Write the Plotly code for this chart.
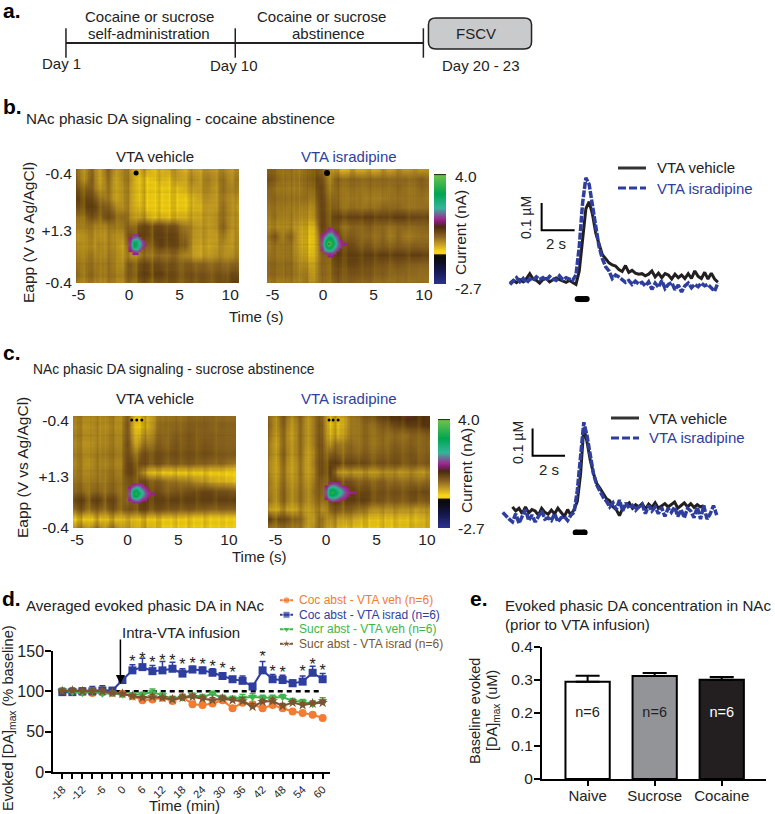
import numpy as np
import plotly.graph_objects as go

W, H = 775, 814
FONT = "Liberation Sans"
BLUE = "#2e3e9e"
BLACK = "#231f20"
ORANGE = "#f47c32"
GREEN = "#3db54a"
BROWN = "#7a5530"

# FSCV colour map (position along the bar, colour)
fscv_colors = [
    [0.0, "#2b3190"], [0.127, "#15174a"], [0.24, "#0a0a0a"], [0.265, "#111008"],
    [0.275, "#f7d417"], [0.30, "#f7d417"], [0.355, "#c9a227"], [0.43, "#8a6422"], [0.52, "#4b2a10"],
    [0.56, "#7a1f6a"], [0.59, "#a0268f"], [0.69, "#35b59b"], [0.82, "#00a651"],
    [0.985, "#6cc04a"], [1.0, "#000000"],
]
# scan-to-scan texture drawn over the colour plots
texture_colors = [[0, "rgba(70,35,0,0.42)"], [0.5, "rgba(120,90,0,0)"], [1, "rgba(250,215,0,0.38)"]]

# panel a
timeline_days = [1, 10, 20]

# colour plots, tenths of nA, top row first
heat_b_veh = [
    [1,-2,0,-3,1,-2,-1,-3,-5,-4,-6,-5,-4,-3,-5,-3,-4,-2,-3,-1,-3,-2],
    [2,-1,1,-3,0,-3,-1,-2,-6,-7,-6,-5,-6,-3,-4,-1,-3,0,-2,1,-2,0],
    [4,3,1,-2,-1,-3,-2,-3,-6,-7,-8,-7,-7,-6,-5,-3,-3,-1,-3,1,-1,-1],
    [6,6,4,2,-1,-3,-2,-3,-6,-7,-8,-8,-8,-7,-7,-5,-4,-2,-3,0,-2,-3],
    [4,6,6,5,2,0,-2,-3,-5,-7,-7,-8,-8,-7,-7,-5,-5,-3,-3,1,-2,-4],
    [0,2,3,3,4,3,1,-2,-3,-4,-6,-5,-6,-5,-5,-4,-4,-3,-2,1,-2,-3],
    [-1,1,-2,0,-2,1,0,1,4,5,5,5,4,3,0,-2,-3,-3,-2,2,-2,-3],
    [-3,-1,-3,-1,-3,-1,-2,4,6,5,6,6,6,5,2,-2,-3,-3,-3,0,-3,-2],
    [-2,-1,-4,0,-3,-1,-4,1,2,2,4,6,5,5,3,-3,-4,-4,-3,-2,-3,-2],
    [-1,0,-2,0,-2,0,-3,-2,-1,0,1,1,1,1,-1,-3,-4,-3,-2,-2,-2,-1],
    [0,1,-1,1,-1,0,-2,3,4,5,5,4,4,3,3,2,2,1,2,1,2,1],
    [1,1,0,1,-1,1,-1,3,5,6,6,6,5,4,4,4,4,3,4,3,5,4],
    [-1,0,-2,0,-2,0,-2,1,3,3,3,3,4,3,3,3,4,3,4,4,6,6],
]
heat_b_isr = [
    [3,0,2,-1,1,-1,5,1,-1,-5,-6,-4,-5,-4,-5,-3,-4,-2,-3,-2,-3,-2],
    [5,1,3,-1,2,0,6,4,0,1,2,1,2,1,2,1,2,1,2,1,3,1],
    [3,-1,2,-2,1,-1,4,5,1,0,1,0,1,0,1,0,1,1,1,0,2,1],
    [2,0,3,-1,2,-1,2,5,3,0,1,-1,1,-1,0,-1,1,0,1,0,1,0],
    [1,-1,2,-2,1,-3,0,5,4,1,1,0,1,0,1,1,2,1,1,0,1,1],
    [0,-1,1,-2,0,-4,-1,5,5,5,6,5,6,6,6,5,6,6,6,5,5,5],
    [-1,-3,0,-3,-2,-6,-5,5,5,2,1,1,2,2,2,1,1,1,2,1,2,2],
    [1,2,1,1,-2,-7,-6,3,6,5,3,2,2,1,1,1,0,1,0,0,1,1],
    [0,-1,2,-1,-2,-7,-6,2,6,6,5,4,3,3,2,2,2,2,2,2,2,2],
    [1,-1,2,-1,-1,-6,-5,1,4,6,6,6,6,6,6,6,6,6,6,6,6,5],
    [2,0,3,0,0,-4,-3,1,3,4,5,5,5,4,4,3,3,3,3,2,2,2],
    [2,0,3,0,1,-2,-2,1,3,3,4,3,4,3,3,2,2,1,2,1,1,1],
    [0,-2,1,-2,0,-2,-1,0,2,1,3,1,2,1,1,0,1,0,1,0,1,0],
]
heat_c_veh = [
    [0,-2,0,-3,0,-2,-1,2,-6,-6,-3,-1,1,0,1,1,2,1,2,1,1,1],
    [-1,-3,-1,-3,-1,-3,-1,3,-7,-7,-3,0,2,1,2,2,3,2,2,2,2,2],
    [0,-2,0,-3,0,-2,0,3,-5,-4,-1,1,2,2,3,3,3,2,3,2,2,2],
    [-1,-3,-1,-3,0,-2,0,4,-3,-1,1,2,2,3,3,3,3,3,3,2,2,2],
    [0,-2,0,-2,1,-1,1,4,1,3,4,4,4,4,4,4,4,4,4,3,3,3],
    [-1,-2,-1,-2,0,-2,0,5,5,4,4,4,3,3,3,3,3,2,2,2,1,0],
    [0,-2,0,-2,1,-1,1,5,6,-4,-6,-7,-7,-7,-7,-7,-7,-7,-7,-7,-8,-8],
    [1,-1,1,-1,1,0,2,3,5,4,3,2,1,0,0,-1,-2,-3,-4,-5,-5,-6],
    [2,1,2,1,2,1,2,2,5,6,5,4,3,3,4,4,5,5,5,4,4,3],
    [5,6,5,6,5,5,4,1,5,6,6,6,6,6,6,6,6,6,6,6,6,6],
    [1,3,2,2,2,3,3,3,5,5,4,4,4,3,3,3,3,2,2,2,2,2],
    [-7,-7,-7,-6,-6,-6,-6,-5,-6,-7,-7,-7,-7,-7,-7,-8,-8,-8,-8,-8,-8,-8],
    [-2,-1,-2,0,-2,0,-2,-3,-4,-5,-5,-6,-7,-7,-8,-7,-8,-7,-8,-8,-8,-8],
]
heat_c_isr = [
    [1,-1,2,-1,1,-2,0,2,-6,-5,-3,0,2,3,5,6,8,8,9,8,8,7],
    [2,-1,1,-2,0,-2,0,3,-6,-6,-3,0,1,1,2,3,4,5,6,6,7,7],
    [1,-2,0,-3,0,-2,0,3,-5,-5,-2,0,1,1,1,1,1,1,1,2,2,2],
    [0,-3,0,-2,0,-2,0,4,-2,0,1,1,1,1,1,1,2,2,2,2,2,1],
    [0,-2,1,-2,0,-3,-1,4,2,2,2,2,2,2,2,2,3,3,3,3,2,2],
    [-1,-3,0,-3,-1,-3,0,5,6,6,5,5,5,4,4,4,4,4,3,4,3,3],
    [-1,-3,-1,-3,-1,-3,-1,5,6,-2,-3,-3,-3,-3,-3,-2,-2,-3,-2,-2,-3,-2],
    [0,-2,0,-2,-1,-2,0,3,5,5,4,3,2,2,2,2,1,1,1,1,1,1],
    [0,-1,1,-1,0,-1,1,2,5,6,6,6,5,5,4,4,4,4,4,5,5,4],
    [1,-1,1,-1,0,-1,0,1,5,6,6,6,6,5,4,3,3,3,3,4,3,3],
    [-3,-4,-3,-4,-3,-3,-2,-2,2,3,3,2,1,-1,-2,-2,-2,-2,-2,-3,-2,-3],
    [6,5,4,4,1,-2,-3,1,-2,-3,-3,-4,-5,-6,-6,-6,-6,-6,-6,-6,-5,-5],
    [0,1,0,1,-1,-3,-2,0,-4,-5,-6,-6,-7,-7,-7,-6,-7,-6,-6,-5,-5,-5],
]

# vertical stripes (left to right) and horizontal bands (top to bottom) of the plots
stripes_b = [-2,2,3,-2,-3,1,3,0,-3,-1,3,2,-2,-3,2,3,-1,-3,1,3,-1,-2,1,2,-2,-2,2,2,-1,-2,2,1,-2,-1,2,1,-2,-1,2,1,-2,-1]
stripes_c = [2,-2,-3,2,3,-1,-3,1,3,-2,-3,2,3,-1,-2,2,3,-2,-3,2,2,-2,-2,1,2,-1,-2,2,1,-2,-1,2,1,-2,-1,1,2,-1,-1,1,1,-1]
bands_b = [-2,1,2,-1,0,2,-1,-2,1,1,-1,0,2,-1,-2,1,2,0,-2,1,0,2,-1,-2,1,2,-1,0,1,-2,1,2,-1,-2,1,-2]
bands_c = [-2,2,1,-1,1,-2,1,2,-1,0,1,-1,2,0,-1,1,1,-2,1,0,2,-1,1,-2,1,1,-1,2,0,-2,1,2,-1,1,0,-3]

# dopamine oxidation spots, same units, None = nothing above background
n = None
spot_b_veh = [
    [n,13,13,n,n,n],
    [12,16,18,14,n,n],
    [13,25,25,18,13,n],
    [14,29,26,20,14,12],
    [13,26,24,17,13,n],
    [12,15,17,14,n,n],
    [n,12,12,n,n,n],
]
spot_b_isr = [
    [n,n,12,13,n,n,n,n,n],
    [n,12,14,15,12,n,n,n,n],
    [12,14,20,20,14,12,n,n,n],
    [13,20,27,26,18,14,n,n,n],
    [14,26,32,30,22,15,12,n,n],
    [15,28,40,32,24,16,13,12,12],
    [14,26,32,28,20,15,13,n,n],
    [13,20,24,22,16,13,n,n,n],
    [n,13,14,14,13,n,n,n,n],
    [n,n,12,12,n,n,n,n,n],
]
spot_c_veh = [
    [n,12,13,13,12,n,n,n,n],
    [12,16,20,18,14,12,n,n,n],
    [14,26,28,22,18,14,12,n,n],
    [15,30,32,26,20,15,13,12,12],
    [14,27,28,22,17,14,12,n,n],
    [12,15,18,16,13,12,n,n,n],
    [n,12,12,12,n,n,n,n,n],
]
spot_c_isr = [
    [n,12,13,13,12,n,n,n,n,n,n],
    [12,17,20,18,15,13,12,n,n,n,n],
    [14,26,28,24,20,17,14,12,n,n,n],
    [15,30,32,28,23,19,15,13,12,12,12],
    [14,27,28,25,20,16,14,12,n,n,n],
    [12,16,18,17,14,13,12,n,n,n,n],
    [n,12,13,12,12,n,n,n,n,n,n],
]

# DA traces in nM, one sample every 0.2 s
trace_b_veh = [-5,5,-3,8,0,12,30,10,5,-5,8,12,0,6,14,8,3,-2,5,-3,
    -10,40,160,270,296,250,180,140,100,85,70,62,58,45,38,60,35,42,32,28,30,22,28,40,
    18,32,15,30,25,10,28,15,25,12,30,12,40,20,12,35,10,32,10,-2]
trace_b_isr = [-10,5,15,0,12,-5,10,5,18,8,15,5,20,10,5,22,8,15,10,5,
    25,130,290,385,360,290,205,130,85,55,40,12,25,18,8,-2,5,-10,2,-8,-2,-15,0,-28,
    -5,-20,5,-25,-10,-3,-30,-12,-38,-15,-5,-22,-10,-18,-5,-15,-10,-25,-35,-5]
trace_c_veh = [30,15,25,5,30,8,20,15,0,25,10,3,18,5,25,8,-5,20,0,
    20,50,150,320,268,200,152,115,98,78,60,52,30,20,-2,25,35,45,25,38,30,42,22,40,28,
    45,25,35,42,30,38,48,25,35,45,30,42,28,38,30,35]
trace_c_isr = [10,-5,-15,-25,5,-30,-5,20,-20,0,-25,-5,15,-15,-10,-20,5,-25,-10,-5,-20,0,
    10,90,210,340,290,215,150,110,85,65,50,30,45,20,55,15,45,25,35,18,30,40,5,35,
    15,30,5,28,-5,25,10,30,-5,20,-10,25,15,-10,30,-15,35,-15,5,35,0]

# panel d
minutes = list(range(-18, 61, 3))
minute_labels = [str(m) if m % 6 == 0 else "" for m in minutes]
coc_veh = [100,100,99,98,99,98,97,94,89,90,92,88,93,84,83,85,89,79,86,84,79,83,79,75,73,71,67]
coc_isr = [99,99,100,100,101,101,114,126,130,125,126,128,122,127,126,123,119,115,113,106,126,115,114,110,112,123,115]
suc_veh = [101,99,98,100,97,98,96,96,96,99,95,91,92,95,93,97,92,91,92,93,92,92,93,88,87,84,88]
suc_isr = [100,101,100,100,100,98,97,94,92,93,92,90,92,93,91,89,91,89,88,81,87,88,82,86,83,85,86]
coc_veh_err = [2,2,2,2,2,2,2,3,3,3,2,3,3,3,2,3,3,3,3,3,2,3,2,2,2,2,2]
coc_isr_err = [4,3,4,6,6,3,4,7,11,7,11,8,6,4,4,5,4,3,6,3,11,6,6,4,7,8,7]
suc_veh_err = [3,3,3,3,3,2,2,2,3,4,3,3,3,3,3,3,3,3,4,4,3,3,3,3,3,3,4]
suc_isr_err = [3,3,3,3,3,2,2,2,2,3,2,3,3,3,3,3,3,3,4,4,3,3,3,3,3,3,3]
star_minutes = [3,6,9,12,15,18,21,24,27,30,33,42,45,48,54,57,60]
star_heights = [135,139,134,137,136,131,133,131,129,127,121,141,123,121,123,131,124]
d_legend = [
    ("Coc abst - VTA veh (n=6)", ORANGE, "circle"),
    ("Coc abst - VTA israd (n=6)", BLUE, "square"),
    ("Sucr abst - VTA veh (n=6)", GREEN, "triangle-down"),
    ("Sucr abst - VTA israd (n=6)", BROWN, "star"),
]

# panel e
groups = ["Naive", "Sucrose", "Cocaine"]
baseline_da = [0.295, 0.312, 0.301]
baseline_err = [0.018, 0.009, 0.008]
group_fill = ["#ffffff", "#929497", "#231f20"]
group_text = ["#222222", "#222222", "#ffffff"]


def xdom(a, b):
    return [a / W, b / W]


def ydom(top, bottom):
    return [1 - bottom / H, 1 - top / H]


fig = go.Figure()
notes = []


def note(text, px, py, size=14, color="#222222", anchor="center", angle=0, bold=False):
    notes.append(dict(
        text=f"<b>{text}</b>" if bold else text,
        x=px / W, y=1 - py / H, xref="paper", yref="paper",
        xanchor=anchor, yanchor="middle", showarrow=False, textangle=angle,
        font=dict(family=FONT, size=size, color=color),
    ))


def hidden(anchor, **kw):
    return dict(visible=False, fixedrange=True, anchor=anchor, **kw)


# panel a: timeline
fig.add_trace(go.Scatter(
    x=timeline_days, y=[0, 0, 0], xaxis="x", yaxis="y", mode="lines+markers",
    line=dict(color=BLACK, width=2), showlegend=False,
    marker=dict(symbol="line-ns", size=21, line=dict(color=BLACK, width=1.5)),
))

# colour plots
def add_heat(rows, spot, ax, color_axis, t_left, t_right, t_spot, row_spot, stripes, bands):
    xa, ya = ("x" + ax, "y" + ax)
    fig.add_trace(go.Heatmap(
        z=np.array(rows[::-1]) / 10, x=np.linspace(t_left, t_right, len(rows[0])),
        y=np.linspace(0, 1, len(rows)), xaxis=xa, yaxis=ya, zsmooth="best",
        coloraxis=color_axis, hoverinfo="skip",
    ))
    fig.add_trace(go.Heatmap(
        z=[stripes, stripes], x=np.linspace(t_left, t_right, len(stripes)), y=[0, 1],
        xaxis=xa, yaxis=ya, zsmooth="best", zmin=-4, zmax=4, colorscale=texture_colors,
        showscale=False, hoverinfo="skip",
    ))
    fig.add_trace(go.Heatmap(
        z=[[b, b] for b in bands[::-1]], x=[t_left, t_right], y=np.linspace(0, 1, len(bands)),
        xaxis=xa, yaxis=ya, zsmooth="best", zmin=-8, zmax=8, colorscale=texture_colors,
        showscale=False, hoverinfo="skip",
    ))
    z = np.array(spot[::-1], dtype=float) / 10
    fig.add_trace(go.Heatmap(
        z=z, x=t_spot + 0.3 * np.arange(z.shape[1]),
        y=row_spot + 0.026 * np.arange(z.shape[0]), xaxis=xa, yaxis=ya,
        zsmooth="best", coloraxis=color_axis, hoverinfo="skip",
    ))


add_heat(heat_b_veh, spot_b_veh, "2", "coloraxis", -5.24, 10.87, 0.1, 0.26, stripes_b, bands_b)
add_heat(heat_b_isr, spot_b_isr, "3", "coloraxis", -5.55, 10.5, -0.1, 0.24, stripes_c, bands_c)
add_heat(heat_c_veh, spot_c_veh, "5", "coloraxis2", -5.4, 10.7, 0.2, 0.23, stripes_c, bands_b[::-1])
add_heat(heat_c_isr, spot_c_isr, "6", "coloraxis2", -5.75, 10.3, 0.0, 0.24, stripes_b, bands_c[::-1])

# black artefact at the top of each colour plot
artefacts = [("2", [0.7], 5), ("3", [0.4], 6), ("5", [0.4, 0.9, 1.4], 3), ("6", [0.3, 0.7, 1.2], 3)]
for ax, ts, size in artefacts:
    fig.add_trace(go.Scatter(
        x=ts, y=[0.965] * len(ts), xaxis="x" + ax, yaxis="y" + ax, mode="markers",
        marker=dict(color="#000000", size=size), showlegend=False, hoverinfo="skip",
    ))


# DA traces with scale bars
def add_traces(black, blue, t_black, t_blue, ax, bar_t, bar_y):
    xa, ya = ("x" + ax, "y" + ax)
    fig.add_trace(go.Scatter(
        x=t_black + 0.2 * np.arange(len(black)), y=black, xaxis=xa, yaxis=ya,
        mode="lines", line=dict(color=BLACK, width=3), showlegend=False,
    ))
    fig.add_trace(go.Scatter(
        x=t_blue + 0.2 * np.arange(len(blue)), y=blue, xaxis=xa, yaxis=ya,
        mode="lines", line=dict(color=BLUE, width=3.5, dash="7px,1.5px"), showlegend=False,
    ))
    # L-shaped scale: 100 nM and 2 s
    fig.add_trace(go.Scatter(
        x=[bar_t, bar_t, bar_t + 2], y=[bar_y + 100, bar_y, bar_y], xaxis=xa, yaxis=ya,
        mode="lines", line=dict(color="#000000", width=2), showlegend=False,
    ))
    # stimulation bar
    fig.add_trace(go.Scatter(
        x=[0.1, 0.65], y=[-64, -64], xaxis=xa, yaxis=ya, mode="lines+markers",
        line=dict(color="#000000", width=6), marker=dict(color="#000000", size=6),
        showlegend=False,
    ))


add_traces(trace_b_veh, trace_b_isr, -4.0, -4.0, "4", -2.08, 191)
add_traces(trace_c_veh, trace_c_isr, -3.8, -4.4, "7", -2.56, 217)

# keys of the trace panels
for ax in ["11", "12"]:
    fig.add_trace(go.Scatter(
        x=[0, 1], y=[0, 0], xaxis="x" + ax, yaxis="y" + ax, mode="lines",
        line=dict(color="#333333", width=3), showlegend=False,
    ))
    fig.add_trace(go.Scatter(
        x=[0, 1], y=[1, 1], xaxis="x" + ax, yaxis="y" + ax, mode="lines",
        line=dict(color=BLUE, width=3, dash="8px,3px"), showlegend=False,
    ))
note("VTA vehicle", 655, 168, size=15, anchor="left")
note("VTA isradipine", 655, 188, size=15, color=BLUE, anchor="left")
note("VTA vehicle", 647, 418, size=15, anchor="left")
note("VTA isradipine", 647, 438, size=15, color=BLUE, anchor="left")

# panel d
series_d = [
    (coc_veh, coc_veh_err, d_legend[0]),
    (coc_isr, coc_isr_err, d_legend[1]),
    (suc_veh, suc_veh_err, d_legend[2]),
    (suc_isr, suc_isr_err, d_legend[3]),
]
fig.add_trace(go.Scatter(
    x=[-2, 60], y=[100, 100], xaxis="x8", yaxis="y8", mode="lines",
    line=dict(color="#000000", width=2.5, dash="5px,4px"), showlegend=False,
))
for vals, errs, (label, color, symbol) in series_d:
    fig.add_trace(go.Scatter(
        x=minutes, y=vals, xaxis="x8", yaxis="y8", mode="lines+markers",
        line=dict(color=color, width=2), name=label, showlegend=False,
        marker=dict(color=color, symbol=symbol, size=8),
        error_y=dict(type="data", array=errs, symmetric=False, arrayminus=[0] * len(errs),
                     color=color, thickness=1.5, width=3),
    ))
fig.add_trace(go.Scatter(
    x=star_minutes, y=star_heights, xaxis="x8", yaxis="y8", mode="text",
    text=["*"] * len(star_minutes), showlegend=False,
    textfont=dict(family=FONT, size=16, color="#222222"),
))
# legend keys of panel d
for row, (label, color, symbol) in enumerate(d_legend):
    fig.add_trace(go.Scatter(
        x=[0, 0.5, 1], y=[row] * 3, xaxis="x9", yaxis="y9", mode="lines+markers",
        line=dict(color=color, width=2), showlegend=False,
        marker=dict(color=color, symbol=symbol, size=[0, 7, 0]),
    ))
    note(label, 297, 600 + row * 14.6, size=12, color=color, anchor="left")

# panel e
fig.add_trace(go.Bar(
    x=groups, y=baseline_da, xaxis="x10", yaxis="y10", width=0.66, showlegend=False,
    marker=dict(color=group_fill, line=dict(color="#000000", width=2)),
    error_y=dict(type="data", array=baseline_err, symmetric=False,
                 arrayminus=[0] * 3, color="#000000", thickness=2, width=12),
))
fig.add_trace(go.Scatter(
    x=groups, y=[0.2] * 3, xaxis="x10", yaxis="y10", mode="text", text=["n=6"] * 3,
    textfont=dict(family=FONT, size=14.5, color=group_text), showlegend=False,
))

# text
for label, px, py in [("a.", 1, 10), ("b.", 1, 107), ("c.", 1, 352), ("d.", 0, 598), ("e.", 468, 598)]:
    note(label, px, py, size=21, color="#000000", anchor="left", bold=True)

note("Cocaine or sucrose", 149, 16, size=15)
note("self-administration", 149, 33, size=15)
note("Cocaine or sucrose", 321, 17, size=15)
note("abstinence", 328, 33, size=15)
note("Day 1", 61, 64, size=15)
note("Day 10", 234, 65, size=15)
note("Day 20 - 23", 481, 65, size=15)
note("FSCV", 476, 33, size=15)

note("NAc phasic DA signaling - cocaine abstinence", 24, 118, size=15.2, anchor="left")
note("NAc phasic DA signaling - sucrose abstinence", 31, 369, size=13.8, anchor="left")
note("Averaged evoked phasic DA in NAc", 24, 605, size=15.1, anchor="left")
note("Evoked phasic DA concentration in NAc", 503, 605, size=15.1, anchor="left")
note("(prior to VTA infusion)", 503, 624, size=15.1, anchor="left")

for title_y, ylab_x, ylab_y, time_x, time_y, bar_lab_x, bar_mid_y, bar_top, bar_bot, x_lab in [
    (156, 28, 233, 256, 317, 460, 232, 176, 288, 453),
    (398, 22, 468, 259, 556, 467, 470, 419, 528, 456),
]:
    note("VTA vehicle", 155, title_y, size=15)
    note("VTA isradipine", 349, title_y, size=15, color=BLUE)
    note("Eapp (V vs Ag/AgCl)", ylab_x, ylab_y, size=15.5, angle=-90)
    note("Time (s)", time_x, time_y, size=15)
    note("Current (nA)", bar_lab_x, bar_mid_y, size=15.5, angle=-90)
    note("4.0", x_lab, bar_top, size=15.5, anchor="left")
    note("-2.7", x_lab, bar_bot, size=15.5, anchor="left")

note("0.1 µM", 526, 218, size=14, angle=-90)
note("2 s", 556, 244, size=15)
note("0.1 µM", 518, 443, size=14, angle=-90)
note("2 s", 549, 469, size=15)

note("Evoked [DA]<sub>max</sub> (% baseline)", 9, 718, size=14.6, angle=-90)
note("Time (min)", 184, 805, size=15)
note("Intra-VTA infusion", 120, 632, size=15, anchor="left")
note("Baseline evoked", 475, 711, size=14.5, angle=-90)
note("[DA]<sub>max</sub> (uM)", 493, 711, size=14.5, angle=-90)

notes.append(dict(
    x=-0.6, y=109, xref="x8", yref="y8", ax=0, ay=-46, axref="pixel", ayref="pixel",
    text="", showarrow=True, arrowhead=2, arrowsize=1.2, arrowwidth=1.5, arrowcolor="#000000",
))

# rounded FSCV box in day units
bx0, bx1, by0, by1, rx, ry = 20.27, 25.75, -0.18, 0.76, 0.4, 0.2
box_path = (f"M {bx0+rx} {by0} L {bx1-rx} {by0} Q {bx1} {by0} {bx1} {by0+ry} "
            f"L {bx1} {by1-ry} Q {bx1} {by1} {bx1-rx} {by1} L {bx0+rx} {by1} "
            f"Q {bx0} {by1} {bx0} {by1-ry} L {bx0} {by0+ry} Q {bx0} {by0} {bx0+rx} {by0} Z")

tick_font = dict(family=FONT, size=15.5, color="#222222")


def heat_xaxis(a, b, t_left, t_right, anchor):
    return dict(domain=xdom(a, b), range=[t_left, t_right], tickvals=[-5, 0, 5, 10], anchor=anchor,
                ticktext=["-5", "0", "5", "10"], ticks="", showgrid=False, zeroline=False,
                showline=False, tickfont=tick_font, ticklen=0, fixedrange=True)


def heat_yaxis(top, bottom, anchor, labels=True):
    return dict(domain=ydom(top, bottom), range=[0, 1], tickvals=[0, 0.46, 0.96] if labels else [],
                ticktext=["-0.4", "+1.3", "-0.4"] if labels else [], ticks="", showgrid=False,
                zeroline=False, showline=False, tickfont=tick_font, fixedrange=True, anchor=anchor,
                ticklabelstandoff=3)


def bar_scale(px0, px1, top, bottom):
    return dict(cmin=-2.7, cmax=4.0, colorscale=fscv_colors, colorbar=dict(
        x=px0 / W, xanchor="left", y=1 - bottom / H, yanchor="bottom",
        lenmode="pixels", len=bottom - top, thicknessmode="pixels", thickness=px1 - px0,
        showticklabels=False, ticks="", outlinewidth=0, xpad=0, ypad=0,
    ))


fig.update_layout(
    width=W, height=H, autosize=False, margin=dict(l=0, r=0, t=0, b=0, autoexpand=False),
    paper_bgcolor="white", plot_bgcolor="white", font=dict(family=FONT),
    annotations=notes,
    shapes=[dict(type="path", path=box_path, xref="x", yref="y", fillcolor="#c9cacc",
                 line=dict(color="#222222", width=1.5))],
    coloraxis=bar_scale(434, 446, 174, 284),
    coloraxis2=bar_scale(438, 450, 419, 528),
    xaxis=hidden("y", domain=xdom(40, 540), range=[-0.38, 26.2]),
    yaxis=hidden("x", domain=ydom(10, 76), range=[-1, 1]),
    xaxis2=heat_xaxis(76, 239, -5.24, 10.87, "y2"), yaxis2=heat_yaxis(169, 283, "x2"),
    xaxis3=heat_xaxis(267, 429, -5.55, 10.5, "y3"), yaxis3=heat_yaxis(169, 283, "x3", False),
    xaxis5=heat_xaxis(73, 236, -5.4, 10.7, "y5"), yaxis5=heat_yaxis(416, 528, "x5"),
    xaxis6=heat_xaxis(268, 430, -5.75, 10.3, "y6"), yaxis6=heat_yaxis(416, 528, "x6", False),
    xaxis4=hidden("y4", domain=xdom(505, 725), range=[-4.3, 9.03]),
    yaxis4=hidden("x4", domain=ydom(165, 305), range=[-86, 432]),
    xaxis7=hidden("y7", domain=xdom(500, 725), range=[-4.57, 9.31]),
    yaxis7=hidden("x7", domain=ydom(410, 535), range=[-73, 385]),
    xaxis8=dict(domain=xdom(53, 330), range=[-20.8, 62.2], tickvals=minutes, ticktext=minute_labels,
                tickangle=-45, ticks="outside", ticklen=5, tickwidth=1.5, tickcolor="#000000", anchor="y8",
                showline=True, linecolor="#000000", linewidth=1.5, showgrid=False, zeroline=False,
                tickfont=dict(family=FONT, size=11, color="#222222"), fixedrange=True),
    yaxis8=dict(domain=ydom(651, 772), range=[0, 150], tickvals=[0, 50, 100, 150], anchor="x8",
                ticks="outside", ticklen=6, tickwidth=1.5, tickcolor="#000000",
                showline=True, linecolor="#000000", linewidth=1.5, showgrid=False, zeroline=False,
                tickfont=dict(family=FONT, size=16, color="#222222"), fixedrange=True,
                ticklabelstandoff=-2),
    xaxis9=hidden("y9", domain=xdom(280, 293), range=[0, 1]),
    yaxis9=hidden("x9", domain=ydom(593, 651), range=[3.5, -0.5]),
    xaxis10=dict(domain=xdom(542, 766), range=[-0.68, 2.66], ticks="outside", ticklen=5, tickwidth=1.5, anchor="y10",
                 tickcolor="#000000", showline=True, linecolor="#000000", linewidth=2, showgrid=False,
                 zeroline=False, tickfont=dict(family=FONT, size=15, color="#222222"), fixedrange=True,
                 ticklabelstandoff=-3),
    yaxis10=dict(domain=ydom(647, 779), range=[0, 0.4], tickvals=[0, 0.1, 0.2, 0.3, 0.4], anchor="x10",
                 ticktext=["0", "0.1", "0.2", "0.3", "0.4"], ticks="outside", ticklen=6, tickwidth=1.5,
                 tickcolor="#000000", showline=True, linecolor="#000000", linewidth=2, showgrid=False,
                 zeroline=False, tickfont=dict(family=FONT, size=15.5, color="#222222"), fixedrange=True,
                 ticklabelstandoff=-2),
    xaxis11=hidden("y11", domain=xdom(618, 646), range=[0, 1]),
    yaxis11=hidden("x11", domain=ydom(158, 198), range=[1.5, -0.5]),
    xaxis12=hidden("y12", domain=xdom(611, 639), range=[0, 1]),
    yaxis12=hidden("x12", domain=ydom(408, 448), range=[1.5, -0.5]),
)

fig.write_html("out.html", config={"displayModeBar": False},
               post_script="document.body.style.margin='0';")
